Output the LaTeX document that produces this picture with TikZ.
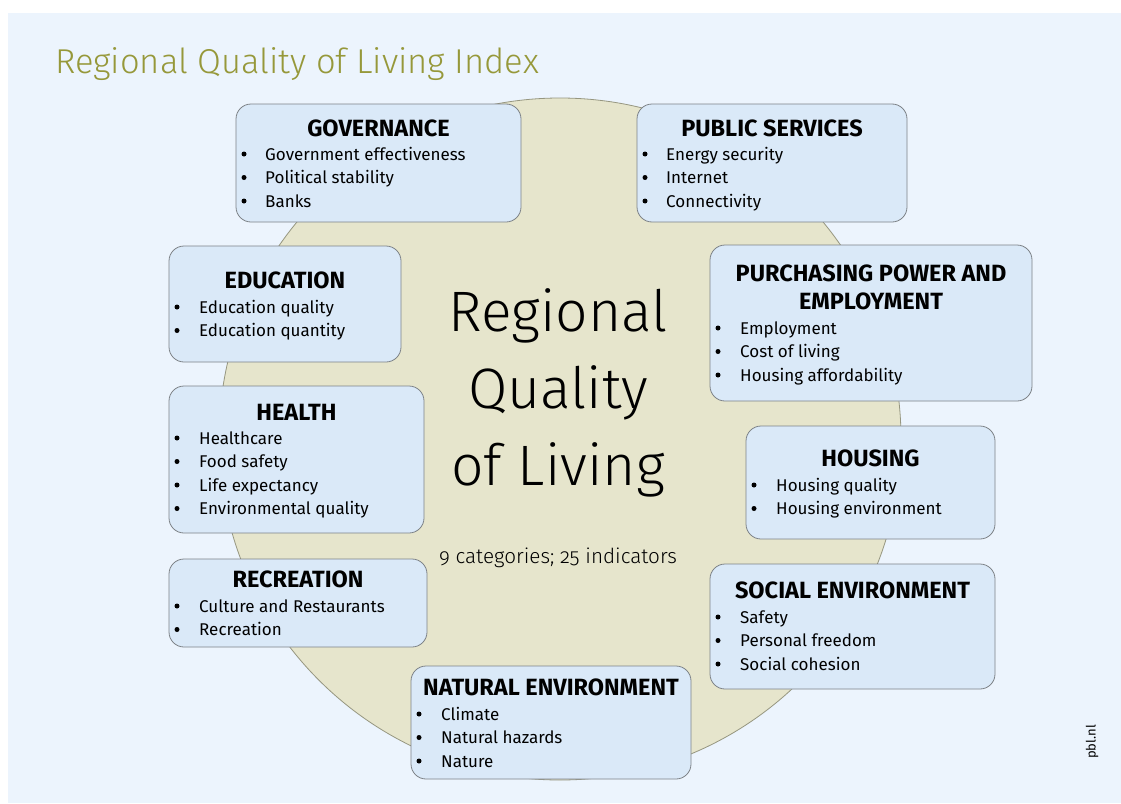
\documentclass[tikz,border=0pt]{standalone}
\usepackage{fontspec}
\setmainfont{Fira Sans}
\newfontfamily\lightfont{Fira Sans Light}
\usetikzlibrary{positioning}
\definecolor{bgblue}{RGB}{236,244,253}
\definecolor{boxfill}{RGB}{218,233,248}
\definecolor{boxline}{RGB}{125,130,135}
\definecolor{ringfill}{RGB}{230,229,204}
\definecolor{ringline}{RGB}{150,150,128}
\definecolor{titleolive}{RGB}{150,152,58}
\tikzset{
  catbox/.style={draw=boxline, fill=boxfill, rounded corners=15pt, line width=0.8pt},
  cattitle/.style={font=\bfseries\fontsize{23.5}{28}\selectfont, inner sep=0pt, align=center},
  catitem/.style={anchor=base west, font=\fontsize{17}{20}\selectfont, inner sep=0pt},
}

\begin{document}
\begin{tikzpicture}[x=1pt,y=-1pt]
            \useasboundingbox (0,0) rectangle (1121,803);
            \fill[bgblue] (8,13) rectangle (1121,803);

            % Title and central disc
            \node[anchor=base west, inner sep=0pt, text=titleolive, font=\lightfont\fontsize{34.5}{40}\selectfont] (title) at (55,73) {Regional Quality of Living Index};
            \draw[draw=ringline, fill=ringfill, line width=0.8pt] (560,439) circle (341pt);
            \node[align=center, inner sep=0pt, font=\lightfont\fontsize{57}{77}\selectfont] (core) at (558,393) {Regional\\Quality\\of Living};
            \node[inner sep=0pt, font=\lightfont\fontsize{20.7}{25}\selectfont\addfontfeatures{Numbers=OldStyle}] (count) at (558,558) {9 categories; 25 indicators};

            % Governance
            \draw[catbox] (236,104) rectangle (521,222);
            \node[cattitle] (gov) at (378.5,128) {GOVERNANCE};
            \foreach \txt [count=\k] in {Government effectiveness, Political stability, Banks} {
                \fill (244,130.5+23.5*\k) circle (2.5pt);
                \node[catitem] (gov\k) at (265,136.5+23.5*\k) {\txt};
            }

            % Public services
            \draw[catbox] (637,104) rectangle (907,222);
            \node[cattitle] (pub) at (772,128) {PUBLIC SERVICES};
            \foreach \txt [count=\k] in {Energy security, Internet, Connectivity} {
                \fill (645,130.5+23.5*\k) circle (2.5pt);
                \node[catitem] (pub\k) at (666,136.5+23.5*\k) {\txt};
            }

            % Education
            \draw[catbox] (169,246) rectangle (401,362);
            \node[cattitle] (edu) at (285,280) {EDUCATION};
            \foreach \txt [count=\k] in {Education quality, Education quantity} {
                \fill (177,283.5+23.5*\k) circle (2.5pt);
                \node[catitem] (edu\k) at (199,289.5+23.5*\k) {\txt};
            }

            % Purchasing power and employment
            \draw[catbox] (710,245) rectangle (1032,401);
            \node[cattitle] (pur) at (871,287) {PURCHASING POWER AND\\EMPLOYMENT};
            \foreach \txt [count=\k] in {Employment, Cost of living, Housing affordability} {
                \fill (718,304.5+23.5*\k) circle (2.5pt);
                \node[catitem] (pur\k) at (740,310.5+23.5*\k) {\txt};
            }

            % Health
            \draw[catbox] (169,386) rectangle (424,533);
            \node[cattitle] (hea) at (296.5,412) {HEALTH};
            \foreach \txt [count=\k] in {Healthcare, Food safety, Life expectancy, Environmental quality} {
                \fill (177,414.5+23.5*\k) circle (2.5pt);
                \node[catitem] (hea\k) at (199,420.5+23.5*\k) {\txt};
            }

            % Housing
            \draw[catbox] (746,426) rectangle (995,539);
            \node[cattitle] (hou) at (870.5,458) {HOUSING};
            \foreach \txt [count=\k] in {Housing quality, Housing environment} {
                \fill (754,461.5+23.5*\k) circle (2.5pt);
                \node[catitem] (hou\k) at (776,467.5+23.5*\k) {\txt};
            }

            % Recreation
            \draw[catbox] (169,559) rectangle (427,647);
            \node[cattitle] (rec) at (298,579) {RECREATION};
            \foreach \txt [count=\k] in {Culture and Restaurants, Recreation} {
                \fill (177,582.5+23.5*\k) circle (2.5pt);
                \node[catitem] (rec\k) at (199,588.5+23.5*\k) {\txt};
            }

            % Social environment
            \draw[catbox] (710,564) rectangle (995,689);
            \node[cattitle] (soc) at (852.5,590) {SOCIAL ENVIRONMENT};
            \foreach \txt [count=\k] in {Safety, Personal freedom, Social cohesion} {
                \fill (718,593.5+23.5*\k) circle (2.5pt);
                \node[catitem] (soc\k) at (740,599.5+23.5*\k) {\txt};
            }

            % Natural environment
            \draw[catbox] (411,666) rectangle (691,779);
            \node[cattitle] (nat) at (551,687) {NATURAL ENVIRONMENT};
            \foreach \txt [count=\k] in {Climate, Natural hazards, Nature} {
                \fill (419,690.5+23.5*\k) circle (2.5pt);
                \node[catitem] (nat\k) at (441,696.5+23.5*\k) {\txt};
            }

            \node[rotate=90, inner sep=0pt, font=\fontsize{13}{15}\selectfont] (pbl) at (1092,742) {pbl.nl};
\end{tikzpicture}
\end{document}
